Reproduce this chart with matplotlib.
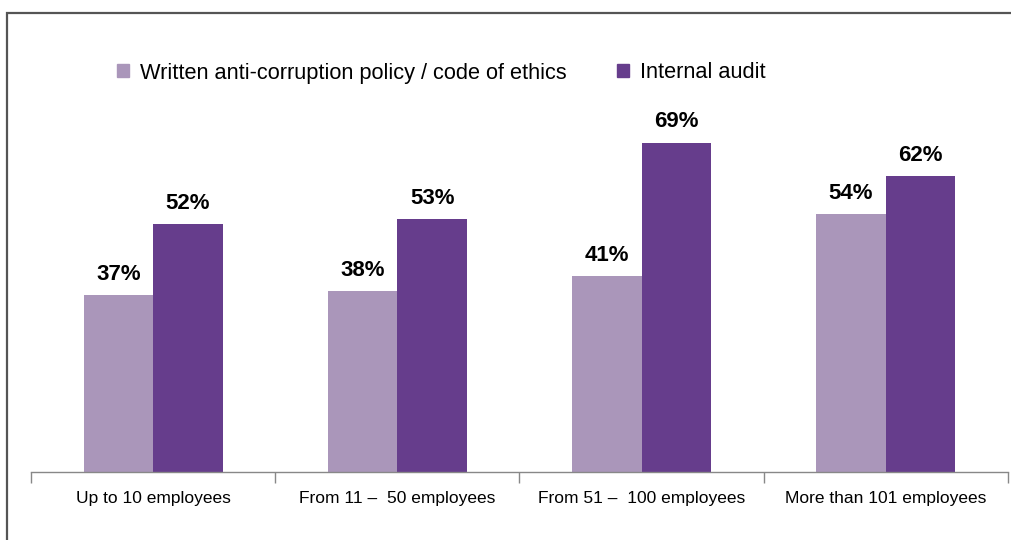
import matplotlib
matplotlib.use("Agg")
import matplotlib.pyplot as plt
from matplotlib.patches import Rectangle, Patch
import numpy as np

plt.rcParams['font.family'] = ['Liberation Sans', 'DejaVu Sans']

categories = ["Up to 10 employees", "From 11 \u2013  50 employees",
              "From 51 \u2013  100 employees", "More than 101 employees"]
series_names = ["Written anti-corruption policy / code of ethics", "Internal audit"]
policy = [37, 38, 41, 54]
audit = [52, 53, 69, 62]
colors = ["#AA96BA", "#663D8C"]

W, H = 1012, 540
fig = plt.figure(figsize=(W / 100, H / 100), dpi=100)

# outer frame
fig.patches.append(Rectangle((7 / W, -0.1), 1.2, 1 - 13 / H + 0.1,
                             transform=fig.transFigure, fill=False,
                             edgecolor="#555555", linewidth=1.6))

ax = fig.add_axes([31 / W, (H - 472) / H, (1008 - 31) / W, 382 / H])
x = np.arange(len(categories))
bw = 0.285
b1 = ax.bar(x - bw / 2, policy, bw, color=colors[0], label=series_names[0])
b2 = ax.bar(x + bw / 2, audit, bw, color=colors[1], label=series_names[1])

for bars, vals in ((b1, policy), (b2, audit)):
    for r, v in zip(bars, vals):
        ax.text(r.get_x() + r.get_width() / 2, v + 2.1, f"{v}%",
                ha="center", va="bottom", fontsize=16, fontweight="bold")

ax.set_xlim(-0.5, len(categories) - 0.5)
ax.set_ylim(0, 80)
ax.set_yticks([])
for s in ("top", "right", "left"):
    ax.spines[s].set_visible(False)
ax.spines["bottom"].set_color("#888888")
ax.spines["bottom"].set_linewidth(1.0)

ax.set_xticks(x)
ax.set_xticklabels(categories, fontsize=12.5)
ax.tick_params(axis="x", which="major", length=0, pad=14)
ax.set_xticks(np.arange(-0.5, len(categories)), minor=True)
ax.tick_params(axis="x", which="minor", length=8, color="#888888", width=1.0)

handles = [Patch(color=c) for c in colors]
fig.legend(handles, series_names, loc="center left",
           bbox_to_anchor=(117 / W, 1 - 73 / H), ncol=2, frameon=False,
           fontsize=15.7, handlelength=0.55, handleheight=0.55,
           handletextpad=0.5, columnspacing=2.3, borderaxespad=0, borderpad=0)

fig.savefig("out.png", dpi=100)
